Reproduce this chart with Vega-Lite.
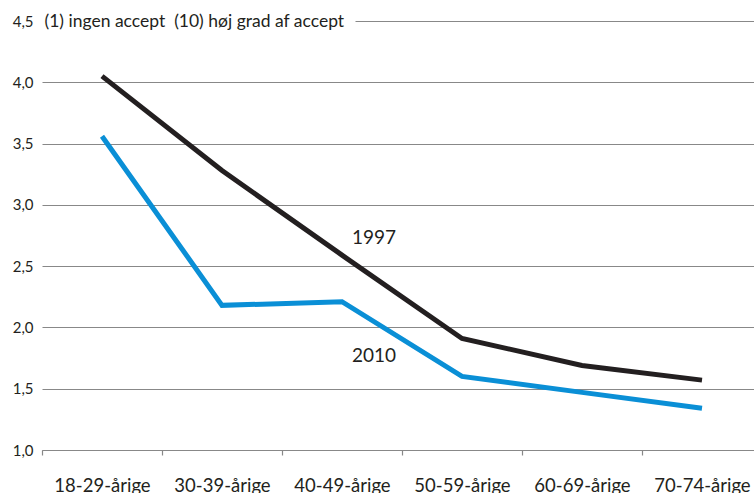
{
  "$schema": "https://vega.github.io/schema/vega-lite/v6.json",
  "width": 712,
  "height": 429,
  "autosize": {"type": "none"},
  "padding": {"left": 42, "top": 21, "right": 0, "bottom": 43},
  "background": "white",
  "config": {"view": {"stroke": null}, "font": "Lato"},
  "layer": [
    {
      "data": {"values": [
        {"alder": "18-29-årige", "aar": "1997", "vaerdi": 4.05},
        {"alder": "30-39-årige", "aar": "1997", "vaerdi": 3.28},
        {"alder": "40-49-årige", "aar": "1997", "vaerdi": 2.59},
        {"alder": "50-59-årige", "aar": "1997", "vaerdi": 1.91},
        {"alder": "60-69-årige", "aar": "1997", "vaerdi": 1.69},
        {"alder": "70-74-årige", "aar": "1997", "vaerdi": 1.57},
        {"alder": "18-29-årige", "aar": "2010", "vaerdi": 3.56},
        {"alder": "30-39-årige", "aar": "2010", "vaerdi": 2.18},
        {"alder": "40-49-årige", "aar": "2010", "vaerdi": 2.21},
        {"alder": "50-59-årige", "aar": "2010", "vaerdi": 1.60},
        {"alder": "60-69-årige", "aar": "2010", "vaerdi": 1.47},
        {"alder": "70-74-årige", "aar": "2010", "vaerdi": 1.34}
      ]},
      "mark": {"type": "line", "strokeWidth": 5, "strokeCap": "butt", "strokeJoin": "miter"},
      "encoding": {
        "x": {
          "field": "alder", "type": "nominal", "sort": null,
          "scale": {"type": "band", "range": [0, 720], "paddingInner": 0, "paddingOuter": 0},
          "axis": {
            "title": null, "labelAngle": 0, "labelFontSize": 18.5, "labelColor": "#231f20",
            "labelPadding": 21, "tickSize": 5, "tickColor": "#888888", "tickWidth": 1.2,
            "tickBand": "extent", "domainColor": "#888888", "domainWidth": 1.2, "grid": false,
            "labelFont": "Lato"
          }
        },
        "y": {
          "field": "vaerdi", "type": "quantitative",
          "scale": {"domain": [1, 4.5], "nice": false, "zero": false},
          "axis": {
            "values": [1, 1.5, 2, 2.5, 3, 3.5, 4, 4.5],
            "labelExpr": "replace(format(datum.value, '.1f'), '.', ',')",
            "labelFontSize": 15, "labelColor": "#231f20", "labelPadding": 9,
            "ticks": false, "domain": false,
            "grid": true, "gridColor": "#888888", "gridWidth": 1.2,
            "gridDash": {"condition": {"test": "datum.value == 4.5", "value": [0, 313, 600]}, "value": []},
            "title": "(1) ingen accept \u00a0(10) høj grad af accept",
            "titleAngle": 0, "titleAlign": "left", "titleBaseline": "middle",
            "titleX": 2, "titleY": 0, "titleFontSize": 17.5, "titleFontWeight": "normal",
            "titleColor": "#231f20", "titleFont": "Lato"
          }
        },
        "color": {
          "field": "aar", "type": "nominal",
          "scale": {"domain": ["1997", "2010"], "range": ["#231f20", "#0a8fd6"]},
          "legend": null
        }
      }
    },
    {
      "data": {"values": [
        {"alder": "40-49-årige", "aar": "1997", "vaerdi": 2.73},
        {"alder": "40-49-årige", "aar": "2010", "vaerdi": 1.77}
      ]},
      "mark": {"type": "text", "fontSize": 19, "dx": 32, "color": "#231f20", "align": "center", "baseline": "middle"},
      "encoding": {
        "x": {"field": "alder", "type": "nominal", "sort": null},
        "y": {"field": "vaerdi", "type": "quantitative"},
        "text": {"field": "aar", "type": "nominal"}
      }
    }
  ]
}
